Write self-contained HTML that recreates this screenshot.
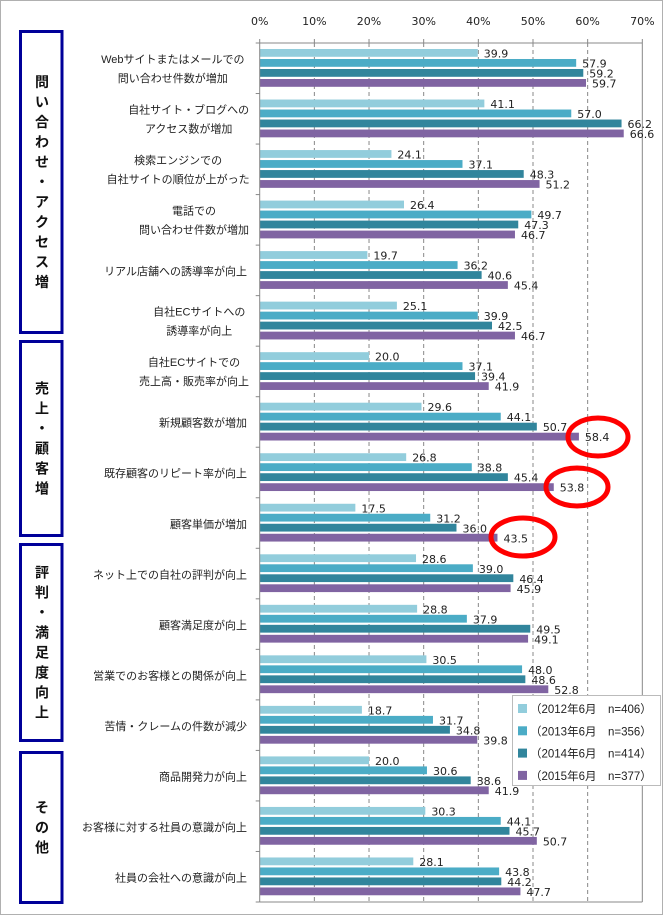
<!DOCTYPE html>
<html><head><meta charset="utf-8"><style>
body{margin:0;background:#fff;}
svg{display:block;}
.c{font-family:"Liberation Sans","Noto Sans CJK JP",sans-serif;font-size:11px;fill:#222;}
.l{font-family:"Liberation Sans","Noto Sans CJK JP",sans-serif;font-size:11.5px;fill:#222;}
.v{font-family:"DejaVu Sans","Liberation Sans",sans-serif;font-size:11px;fill:#222;}
.b{font-family:"Liberation Sans","Noto Sans CJK JP",sans-serif;font-size:14px;font-weight:bold;fill:#111;}
</style></head><body>
<svg id="s" width="664" height="916" xmlns="http://www.w3.org/2000/svg">
<rect x="0.5" y="0.5" width="662" height="914" fill="#fff" stroke="#b0b0b0"/>
<g id="g"></g>
</svg>
<script>
var ns="http://www.w3.org/2000/svg",g=document.getElementById('g');
function el(t,a,txt){var e=document.createElementNS(ns,t);for(var k in a)e.setAttribute(k,a[k]);if(txt!==undefined)e.textContent=txt;g.appendChild(e);return e;}
var X0=259.7,S=5.466,T=43,B=902,P=(B-T)/17;
var cols=["#92CDDC","#4BACC6","#31859C","#8064A2"];
var data=[
[["Webサイトまたはメールでの","問い合わせ件数が増加"],[39.9,57.9,59.2,59.7]],
[["自社サイト・ブログへの","アクセス数が増加"],[41.1,57.0,66.2,66.6]],
[["検索エンジンでの","自社サイトの順位が上がった"],[24.1,37.1,48.3,51.2]],
[["電話での","問い合わせ件数が増加"],[26.4,49.7,47.3,46.7]],
[["リアル店舗への誘導率が向上"],[19.7,36.2,40.6,45.4]],
[["自社ECサイトへの","誘導率が向上"],[25.1,39.9,42.5,46.7]],
[["自社ECサイトでの","売上高・販売率が向上"],[20.0,37.1,39.4,41.9]],
[["新規顧客数が増加"],[29.6,44.1,50.7,58.4]],
[["既存顧客のリピート率が向上"],[26.8,38.8,45.4,53.8]],
[["顧客単価が増加"],[17.5,31.2,36.0,43.5]],
[["ネット上での自社の評判が向上"],[28.6,39.0,46.4,45.9]],
[["顧客満足度が向上"],[28.8,37.9,49.5,49.1]],
[["営業でのお客様との関係が向上"],[30.5,48.0,48.6,52.8]],
[["苦情・クレームの件数が減少"],[18.7,31.7,34.8,39.8]],
[["商品開発力が向上"],[20.0,30.6,38.6,41.9]],
[["お客様に対する社員の意識が向上"],[30.3,44.1,45.7,50.7]],
[["社員の会社への意識が向上"],[28.1,43.8,44.2,47.7]]];
for(var i=1;i<7;i++){var x=X0+i*10*S;el('line',{x1:x,y1:T,x2:x,y2:B,stroke:'#888','stroke-dasharray':'4,3','stroke-width':1});}
for(var i=0;i<=7;i++){var x=X0+i*10*S;el('line',{x1:x,y1:T-4,x2:x,y2:T,stroke:'#888'});el('text',{x:x,y:25,'class':'v','text-anchor':'middle'},i*10+'%');}
el('line',{x1:X0,y1:T,x2:X0+70*S,y2:T,stroke:'#888'});
el('line',{x1:X0+70*S,y1:T,x2:X0+70*S,y2:B,stroke:'#888'});
el('line',{x1:X0,y1:B,x2:X0+70*S,y2:B,stroke:'#888'});
for(var k=0;k<=17;k++){var y=T+k*P;el('line',{x1:X0-4,y1:y,x2:X0,y2:y,stroke:'#888'});}
data.forEach(function(d,k){
 var top=T+k*P;
 d[1].forEach(function(v,j){
  var y=top+6+j*10, w=v*S;
  el('rect',{x:X0,y:y,width:w,height:7.8,fill:cols[j]});
  el('text',{x:X0+w+6,y:y+8.5,'class':'v'},v.toFixed(1));
 });
 var L=d[0];
 if(L.length==1){el('text',{x:247,y:top+30,'class':'c','text-anchor':'end'},L[0]);}
 else{var w=Math.max(L[0].length,L[1].length)*10.6;var cx=247-w/2;
  el('text',{x:cx,y:top+20,'class':'c','text-anchor':'middle'},L[0]);
  el('text',{x:cx,y:top+39,'class':'c','text-anchor':'middle'},L[1]);}
});
el('line',{x1:X0,y1:T,x2:X0,y2:B,stroke:'#888'});
[[598,437,30,19],[577,487,31,19],[523,537,32,19]].forEach(function(e){el('ellipse',{cx:e[0],cy:e[1],rx:e[2],ry:e[3],fill:'none',stroke:'#ff0000','stroke-width':5});});
var boxes=[[30,334,"問い合わせ・アクセス増"],[340,537,"売上・顧客増"],[543,742,"評判・満足度向上"],[751,904,"その他"]];
boxes.forEach(function(b){
 el('rect',{x:20.5,y:b[0]+1.5,width:41.5,height:b[1]-b[0]-3,fill:'none',stroke:'#000099','stroke-width':3});
 var n=b[2].length,h=n*20,y0=(b[0]+b[1])/2-h/2+15;
 for(var i=0;i<n;i++)el('text',{x:42,y:y0+i*20,'class':'b','text-anchor':'middle'},b[2][i]);
});
el('rect',{x:512.5,y:695.5,width:148,height:90,fill:'#fff',stroke:'#bbb'});
var lg=["（2012年6月　n=406）","（2013年6月　n=356）","（2014年6月　n=414）","（2015年6月　n=377）"];
lg.forEach(function(t,i){var y=706+i*22.3;el('rect',{x:518,y:y-2,width:9,height:9,fill:cols[i]});
 el('text',{x:530,y:y+7,'class':'l'},t);});
</script>
</body></html>
